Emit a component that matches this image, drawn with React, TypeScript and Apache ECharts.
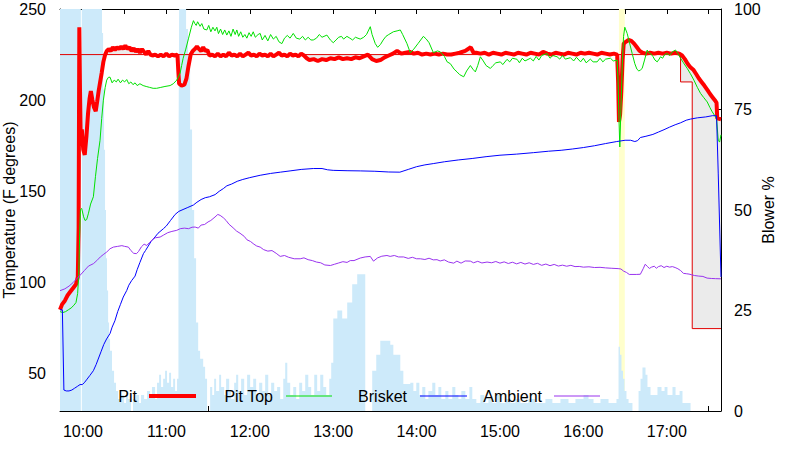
import React, { useEffect, useRef } from "react";
import * as echarts from "echarts";

// Time is minutes since midnight
const X_MIN = 583.5;
const X_MAX = 1059;
const X_TICKS = [600, 630, 660, 690, 720, 750, 780, 810, 840, 870, 900, 930, 960, 990, 1020, 1050];
const X_LABELS = [600, 660, 720, 780, 840, 900, 960, 1020];
const Y_TICKS = [50, 100, 150, 200, 250];
const Y2_TICKS = [0, 25, 50, 75, 100];

const LEGEND_NAMES = ["Pit", "Pit Top", "Brisket", "Ambient"];

const LID_OPEN: [number, number] = [985.6, 989.8];

const SETPOINT: [number, number][] = [
  [583.5, 225], [1029.9, 210], [1038.3, 74.7], [1059, 74.7],
];

const PIT: [number, number][] = [
  [583.5, 85], [585, 88], [587, 90], [589, 93], [591, 95], [593, 97], [595, 99], [596.3, 103], [596.9, 130],
  [597.4, 240], [597.9, 205], [598.4, 178], [599.2, 184], [600.2, 173], [601.3, 170], [602.5, 180], [603.7, 193],
  [604.8, 201], [605.7, 205], [606.8, 200], [608, 196], [609.2, 194], [610.2, 199], [611.3, 205], [612.4, 210],
  [613.5, 215], [614.7, 221], [616, 225], [617.2, 227], [618.5, 228], [620, 227], [621.5, 229], [623, 227.5],
  [624.5, 229], [626, 228], [627.5, 229.5], [629, 228], [630.5, 230], [632, 228], [633.5, 229], [635, 227],
  [636.5, 228.5], [638, 226.5], [639.5, 228], [641, 226], [642.5, 228], [644, 226.5], [645.5, 225], [647, 227],
  [648.5, 225], [650, 224.5], [652, 225], [654, 224], [656, 225], [658, 224], [660, 225.5], [662, 224], [664, 225],
  [666, 224.5], [668, 225], [668.6, 216], [669.2, 209], [671, 208], [673, 208.5], [674.5, 212], [676, 219],
  [677.5, 225], [679, 227], [680.5, 228], [682, 229.5], [683.5, 228], [685, 227], [686.5, 229], [688, 227],
  [689.5, 227.5], [691, 224.5], [693, 225], [695, 224], [697, 225.5], [699, 224], [701, 225], [703, 224], [705, 226],
  [707, 224.5], [709, 225], [711, 224], [713, 225.5], [715, 224], [717, 225], [719, 226], [721, 224.5], [723, 225],
  [725, 224], [727, 225.5], [729, 224.5], [731, 225], [733, 224], [735, 225.5], [737, 224], [739, 225], [741, 226],
  [743, 224.5], [745, 225], [747, 224], [749, 225.5], [751, 224.5], [753, 225], [755, 224], [757, 225.5],
  [759, 224.5], [761, 223], [763, 222], [766, 222.5], [769, 221.5], [772, 222.5], [775, 222], [778, 223],
  [781, 222.5], [784, 223.5], [787, 222.5], [790, 223], [793, 222.5], [796, 223.5], [799, 223], [802, 224],
  [805, 225], [808, 222.5], [811, 221.5], [814, 222], [817, 223.5], [820, 224.5], [823, 225.5], [826, 227],
  [829, 225.5], [832, 226], [835, 226.5], [838, 225.5], [841, 226], [844, 225], [847, 225.5], [850, 225],
  [853, 225.5], [856, 225], [859, 225.5], [862, 225], [865, 225], [868, 225.5], [871, 226], [875, 227],
  [879, 229], [881, 226], [883, 226], [886, 225.5], [889, 226], [892, 225], [895, 226], [898, 225.5], [901, 225],
  [904, 226], [907, 225.5], [910, 225], [913, 226], [916, 225.5], [919, 225], [922, 226], [925, 225.5], [928, 225],
  [931, 226.5], [934, 225.5], [937, 225], [940, 226], [943, 225.5], [946, 225], [949, 226], [952, 225.5],
  [955, 225], [958, 226], [961, 225.5], [964, 226], [967, 225.5], [970, 225], [973, 226], [976, 225.5], [979, 225],
  [982, 225.5], [984.3, 225], [985, 210], [985.6, 188], [986.4, 192], [987.3, 205], [988.2, 222], [989, 231],
  [990.5, 232], [992.5, 233], [994.5, 232.5], [996.5, 231], [998.5, 229], [1000.5, 227], [1002.5, 226],
  [1005, 225.5], [1008, 226], [1011, 225.5], [1014, 226], [1017, 225.5], [1020, 226], [1023, 225.5], [1026, 226],
  [1029, 225.5], [1031, 224.5], [1033, 222.5], [1035, 220], [1037, 218], [1039.3, 216.5], [1041, 214.5],
  [1043, 212], [1045, 210], [1047, 208], [1049.3, 205.5], [1051, 203.5], [1053, 201.5], [1055, 199.5],
  [1055.8, 198.5], [1056.3, 190], [1059, 189.5],
];

const PIT_TOP: [number, number][] = [
  [583.5, 84], [585.5, 83.5], [587.5, 84], [589.5, 85], [591.5, 86], [593.5, 87.5], [595, 89], [596.2, 94],
  [597, 105], [597.6, 125], [598.2, 140], [599.1, 140.6], [600.5, 136], [601.5, 134], [602.7, 134.5], [604, 138],
  [605.5, 143], [607.5, 147], [609, 158], [610.5, 168], [612.3, 178], [613.5, 190], [614.7, 200], [616, 207],
  [617.1, 211], [618.3, 212.5], [619.5, 212.6], [621, 209.5], [622.5, 211], [624, 210], [625.3, 211.5],
  [627, 209.5], [628.5, 211], [630, 210], [631.5, 211.3], [633, 209], [634.5, 210], [636, 208.5], [637.5, 209.5],
  [639, 208], [641, 209], [643.3, 208], [645.5, 207.5], [648, 207], [650.5, 206.5], [653, 206.5], [656, 207],
  [659, 207.5], [662.7, 208], [665, 209], [667.5, 211], [669.9, 214.8], [671, 219], [672.1, 223], [674, 228],
  [676, 234], [678, 240], [679.5, 243.6], [680.5, 242], [681.5, 241], [682.5, 243], [684.3, 240.5], [685.5, 242],
  [687, 239], [689.1, 238.5], [690.5, 241], [692, 237.5], [693.5, 240], [695, 238], [696.3, 240], [697.5, 236.5],
  [699, 239], [700.5, 236], [702, 238.5], [703.5, 235.7], [705, 238], [706.5, 235], [708, 239], [709.5, 236],
  [710.7, 238.5], [712, 235], [713.5, 237.5], [715, 234.5], [716.5, 236], [717.9, 234], [719.5, 237], [721, 235],
  [722.5, 237.5], [724, 234.5], [726, 236], [727.5, 236.6], [729, 233], [731, 235.5], [733, 232.5], [735, 236],
  [737, 233.5], [739, 235], [741, 232], [743.1, 231], [745, 234], [747, 235.5], [749, 234], [751.3, 236.6],
  [753.5, 234], [756, 233.5], [758, 235], [760, 233], [762, 234.5], [764, 233], [765.7, 233], [768, 234],
  [770, 236], [772, 234.5], [775.5, 235.7], [778, 233], [780.1, 231.5], [782, 233], [784, 234.5], [786, 235],
  [787.5, 233.5], [789.9, 235], [792, 234], [794, 233], [796, 234.5], [799.5, 233.5], [802, 234.5], [804, 236],
  [806.7, 240.3], [808, 236], [810.3, 231], [812, 229], [814, 230.5], [816, 233], [818, 235], [820, 236],
  [823.3, 237.5], [826, 238], [828.3, 238.5], [830, 236], [833.1, 231], [835.5, 226], [838, 228], [841, 231],
  [844.9, 235], [847, 233.5], [849, 231.5], [852.1, 226], [855, 227], [857.1, 226.5], [860, 224], [862, 221],
  [864.3, 220], [867, 217], [869.1, 215.5], [871, 214], [873.9, 212.8], [876, 216], [878.7, 219], [880.5, 217],
  [882.3, 215.5], [884, 219], [885.9, 223.8], [888, 221.5], [890, 219], [893.1, 217.4], [895, 219], [897, 220.5],
  [900.3, 221], [902, 219.5], [905.1, 222.4], [907, 221], [909, 223], [912.3, 222.4], [914, 220.5], [916, 223],
  [918, 221.5], [921.9, 223], [924, 221.5], [926, 224], [928, 222], [930, 224.5], [933.9, 225.6], [936, 223],
  [938, 224.5], [941.1, 223.8], [943, 222.5], [945, 224.5], [947, 222.5], [950.7, 223.3], [953, 221.5],
  [955, 223.5], [958, 221], [960, 223], [962, 220.5], [965, 222.5], [967, 221], [969.9, 221], [972, 223], [974, 221],
  [976, 222.5], [979.5, 223], [981.5, 221.5], [984.3, 222], [985, 210], [985.6, 190], [986.2, 174.3], [987, 195],
  [988, 220], [988.9, 235], [989.8, 240], [991.5, 236.6], [993, 232], [995.1, 225.6], [997, 220], [998.5, 217],
  [999.9, 216], [1001, 216.5], [1002.3, 217.4], [1004, 222], [1005.9, 227.5], [1007, 226], [1008.3, 225.6],
  [1010, 224], [1011.5, 222], [1013.1, 221], [1014.5, 222.5], [1015.5, 223.8], [1017, 223], [1018.5, 225],
  [1020.3, 225.6], [1022, 224.5], [1024, 226.5], [1026.3, 227.5], [1028, 225.5], [1029.9, 223], [1032, 220.5],
  [1034.7, 217.4], [1037, 214.5], [1039.5, 211], [1042, 207], [1044.3, 203.7], [1046.5, 201.5], [1049.1, 199],
  [1051, 196], [1052.7, 193.6], [1054.5, 191.5], [1055.8, 190], [1057, 178], [1058, 177], [1059, 181],
];

const BRISKET: [number, number][] = [
  [583.5, 85], [585.2, 85], [586.3, 41], [588, 40.5], [590, 40.5], [592, 41], [594, 42], [596, 43], [597.9, 44],
  [599.5, 44], [601, 45], [603, 47], [605, 49], [607.5, 51.6], [609.5, 55], [611, 58], [613, 62], [615, 66],
  [617, 69], [619.5, 72], [621, 75.5], [623, 79], [625, 84], [627, 88], [629, 92], [631.5, 95.6], [633, 98.5],
  [635, 101], [637.5, 103.5], [639, 107], [641, 111], [643.5, 115.8], [645, 117.5], [647, 120], [649, 122.5],
  [651.9, 125], [654, 127], [657.9, 129.5], [660, 131], [663, 134], [666.3, 137.3], [669, 139], [672, 140],
  [675, 141], [679.5, 142.5], [682, 144], [685, 145.5], [688, 146.5], [691, 147], [695.1, 148.2], [698, 150],
  [701, 151.5], [703.5, 153], [707, 154], [711, 155.5], [715, 156.5], [720, 157.5], [727.5, 158.8], [735, 159.8],
  [742, 160.5], [749, 161.2], [757, 162], [765.7, 162.5], [772, 162.5], [776, 161.8], [780, 161.5], [790, 161.3],
  [799.5, 161.2], [810, 161], [820, 160.6], [828, 160.5], [834, 162], [840, 163.5], [846, 164.5], [852, 165.2],
  [860, 166.2], [870, 167.2], [880, 168], [890, 169], [900, 169.8], [912, 170.4], [924, 171.2], [935, 172],
  [944, 172.5], [952, 173.2], [960, 174], [968, 175], [976, 176.2], [984, 177.3], [990, 178], [994, 178],
  [997, 177.3], [999, 177.8], [1001, 179.5], [1005, 180.2], [1010, 181.2], [1014, 182.5], [1018, 183.8],
  [1022, 185.2], [1026, 186.5], [1030, 187.6], [1034, 189], [1037, 189.6], [1042, 190.3], [1048, 190.8],
  [1053, 191.5], [1055.8, 191.4], [1057, 160], [1059, 103],
];

const AMBIENT: [number, number][] = [
  [583.5, 95.5], [587, 96.5], [590, 98], [593, 100], [595.5, 102], [598, 104], [601, 106.5], [604, 109],
  [607.5, 110.3], [610, 112], [612.5, 114], [615, 115.5], [617.1, 116.7], [619.5, 118.5], [621.9, 119.4],
  [625, 119.8], [628, 120.2], [630, 119.8], [632.7, 119.4], [634.5, 117.5], [636.5, 116], [638.5, 115.8],
  [640, 117], [642, 119.5], [644, 121], [645.9, 120.3], [648, 122], [650, 123.5], [652, 124.5], [655.5, 124.9],
  [658, 126], [661, 127.3], [664, 128], [667.5, 128.6], [670, 129.5], [673, 129.8], [676, 129.5], [678.5, 130.3],
  [680.7, 130.4], [683, 129.8], [685, 131.5], [687.5, 131.8], [690, 133.2], [692, 134], [695, 135.9],
  [697, 137.3], [698.7, 136.8], [701, 135.5], [703, 134], [705, 132], [708, 130], [710.5, 128.2], [713, 127],
  [716, 125.3], [718, 123.4], [720.5, 122.5], [723, 121], [725, 120], [727.5, 119.4], [730, 118], [733, 117.2],
  [736, 117.5], [739, 116], [741.9, 114.3], [745, 114.8], [748, 113.8], [752, 113], [756.3, 113], [759, 113.5],
  [762, 112.5], [765, 112], [768, 111.2], [771, 110.8], [774, 109.6], [778, 109.3], [781, 110], [784, 110.7],
  [787, 111.4], [790, 111], [792.3, 112], [795, 112], [799.5, 113.4], [803, 114], [806.7, 114.3], [809, 111.7],
  [812, 113.5], [815, 114.4], [818.7, 114.8], [821, 114.3], [824, 114.8], [827, 114], [830.7, 114], [834, 113.2],
  [837, 113.8], [840, 113], [842.7, 113], [846, 112.6], [849, 113.3], [852, 112.4], [854.7, 112.5], [857, 111.8],
  [860, 112.4], [863, 111.2], [866.7, 110.6], [869, 111.7], [872, 110.6], [875, 111.8], [878.7, 111.7],
  [881, 110.8], [884, 111.6], [887, 110.7], [890.7, 111.2], [894, 110.8], [897, 111.5], [900, 110.6],
  [903, 111.3], [906, 110.4], [909, 111.1], [912, 110.2], [915, 111], [918, 110.1], [921, 110.8], [924, 109.9],
  [927, 110.5], [930, 109.4], [933, 110.1], [936, 109.2], [939, 109.9], [942, 109], [945, 109.5], [948, 108.9],
  [951, 109.4], [954, 108.7], [957, 108.8], [960, 108.4], [964, 108.6], [968, 108.2], [972, 108.3], [976, 108],
  [980, 107.8], [985, 107.6], [987, 107.4], [989, 106.2], [991, 105.5], [993, 104.4], [998, 104.4], [1001, 104.5],
  [1003, 107.5], [1004.5, 110], [1006, 108.8], [1007.5, 107.7], [1009, 108.4], [1011, 108.9], [1012.5, 107.8],
  [1014, 108.7], [1016, 109.2], [1018, 108.2], [1020, 108.9], [1022, 108.4], [1024, 108.7], [1026, 108.2],
  [1028, 107.5], [1030, 106.5], [1032, 105], [1034, 104.8], [1036, 104.6], [1038, 104.2], [1040, 103.8],
  [1043, 103.5], [1046, 103.3], [1049, 102.4], [1052, 102.2], [1055, 102.1], [1059, 102],
];

const BLOWER: [number, number][] = [
  [583.5, 100], [598.5, 0], [599.2, 100], [613.7, 94], [614.5, 80], [615.2, 65], [615.9, 50], [616.6, 38],
  [617.3, 30], [618.1, 22], [618.8, 18], [619.5, 15], [620.9, 10], [622.4, 7], [623.8, 5], [625.3, 3], [627.4, 4],
  [629.6, 2], [631, 5], [632.5, 3], [634.6, 0], [636, 3], [638.2, 4], [640.4, 2], [641.8, 4], [644, 3], [646.1, 5],
  [648.3, 4], [649.7, 6], [651.9, 3], [653.3, 7], [654.8, 9], [656.2, 6], [657.7, 8], [659.1, 10], [660.5, 7],
  [662, 9.5], [663.4, 6], [664.9, 8], [666.3, 5], [667.7, 8], [668.7, 60], [669.2, 100], [674.2, 95],
  [675.6, 85], [677.1, 70], [678.5, 50], [680, 38], [681.4, 22], [682.9, 15], [684.3, 13], [686.5, 11],
  [687.9, 8], [689.3, 0], [691.5, 6], [693, 4], [694.4, 8], [695.8, 5], [698, 9], [699.4, 6], [701.6, 4], [703, 8],
  [705.2, 5], [706.6, 3], [708.8, 7], [710.2, 9], [711.7, 5], [713.8, 8], [716, 4], [718.1, 9], [720.3, 6],
  [722.5, 8], [724.6, 4], [726.8, 7], [729, 5], [731.1, 9], [733.3, 4], [735.4, 7], [737.6, 5], [739.7, 6],
  [741.9, 3], [744.1, 8], [745.5, 12], [747, 7], [749.1, 4], [751.3, 6], [753.4, 3], [755.6, 7], [757.7, 5],
  [759.9, 9], [762.1, 6], [764.2, 4], [766.4, 9], [768.5, 5], [770.7, 9], [772.9, 6], [775, 4], [777.2, 8],
  [778.6, 12], [780.1, 23], [783, 25], [786.5, 23], [790.1, 27], [793.7, 31.5], [797.3, 34], [803.1, 0],
  [808.1, 10], [811, 14], [813.9, 17.5], [821.1, 16.5], [823.3, 14], [828.3, 10], [830.5, 6.7], [835.5, 7],
  [837.7, 5], [839.8, 7], [842, 4], [844.1, 6], [846.3, 3], [848.5, 5], [851.3, 7], [853.5, 4], [855.7, 6],
  [857.8, 3], [860.7, 5], [862.9, 3], [865.7, 6], [867.9, 4], [870.1, 3], [872.2, 5], [875.1, 3], [878, 6],
  [880.1, 3], [883, 2], [885.9, 4], [888.8, 2], [891.7, 3], [894.5, 2], [897.4, 4], [900.3, 2], [903.9, 3],
  [907.5, 2], [911.1, 3], [914.7, 2], [920.5, 3], [925.5, 2], [932.7, 3], [937.7, 2], [943.5, 3], [949.3, 2],
  [954.3, 3], [960.1, 4], [963.7, 3], [967.3, 2], [972.3, 3], [978.1, 2], [983.8, 3], [985.3, 16], [986.3, 14],
  [987.4, 10], [988.5, 8], [989.6, 5], [991, 3], [992.5, 2], [995.3, 0], [999.7, 5], [1001.1, 8], [1002.5, 10.8],
  [1004.7, 9], [1006.1, 6], [1008.3, 4], [1013.3, 6], [1016.2, 5], [1018.4, 6], [1020.5, 4], [1024.1, 6],
  [1026.3, 4], [1029.2, 5], [1031.3, 2], [1037.1, 0], [1059, 0],
];

const FONT = '"Liberation Sans", Arial, Helvetica, sans-serif';
const C_PIT = "#ff0000";
const C_TOP = "#00e000";
const C_BRISKET = "#0000ff";
const C_AMB = "#9933ee";

function fmtTime(v: number) {
  const h = Math.floor(v / 60);
  const m = Math.round(v - h * 60);
  return `${h}:${m < 10 ? "0" : ""}${m}`;
}

function interp(arr: [number, number][], t: number) {
  if (t <= arr[0][0]) return arr[0][1];
  for (let i = 1; i < arr.length; i++) {
    if (t <= arr[i][0]) {
      const [t0, v0] = arr[i - 1];
      const [t1, v1] = arr[i];
      return v0 + ((v1 - v0) * (t - t0)) / (t1 - t0);
    }
  }
  return arr[arr.length - 1][1];
}

function stepAt(arr: [number, number][], t: number) {
  let v = arr[0][1];
  for (const [tt, vv] of arr) if (tt <= t) v = vv;
  return v;
}

function buildOption() {
  const times = new Set<number>(PIT.map((p) => p[0]));
  SETPOINT.slice(1, -1).forEach(([t]) => {
    times.add(t);
    times.add(+(t - 0.01).toFixed(3));
  });
  const grid = Array.from(times).sort((a, b) => a - b);
  const fillData = grid.map((t) => [t, interp(PIT, t), stepAt(SETPOINT, t)]);

  const legendX = [
    { right: 137, x1: 149, x2: 196, color: C_PIT, w: 4 },
    { right: 273, x1: 286, x2: 332, color: C_TOP, w: 1 },
    { right: 407, x1: 420, x2: 467, color: C_BRISKET, w: 1 },
    { right: 542, x1: 554, x2: 600, color: C_AMB, w: 1 },
  ];
  const legendY = 396;
  const graphic: any[] = [];
  LEGEND_NAMES.forEach((name, i) => {
    const L = legendX[i];
    graphic.push({
      type: "text",
      x: L.right,
      y: legendY,
      z: 100,
      style: { text: name, align: "right", verticalAlign: "middle", fill: "#000", fontSize: 16, fontFamily: FONT },
    });
    graphic.push({
      type: "line",
      z: 100,
      shape: { x1: L.x1, y1: legendY, x2: L.x2, y2: legendY },
      style: { stroke: L.color, lineWidth: L.w },
    });
  });

  const axisText = { color: "#000", fontSize: 16, fontFamily: FONT };
  const line = (name: string, data: any, color: string, width: number, z: number) => ({
    name,
    type: "line",
    data,
    symbol: "none",
    showSymbol: false,
    lineStyle: { color, width },
    itemStyle: { color },
    z,
  });

  return {
    animation: false,
    backgroundColor: "#ffffff",
    grid: { left: 60, right: 79, top: 9, bottom: 39, containLabel: false, outerBoundsMode: "none" },
    textStyle: { fontFamily: FONT },
    xAxis: [
      {
        type: "value",
        min: X_MIN,
        max: X_MAX,
        position: "bottom",
        axisLine: { show: true, onZero: false, lineStyle: { color: "#000", width: 1 } },
        axisTick: { show: true, inside: true, length: 5, customValues: X_TICKS, lineStyle: { color: "#000" } },
        axisLabel: { customValues: X_LABELS, formatter: fmtTime, margin: 12, ...axisText },
        splitLine: { show: false },
      },
      {
        type: "value",
        min: X_MIN,
        max: X_MAX,
        position: "top",
        axisLine: { show: true, onZero: false, lineStyle: { color: "#000", width: 1 } },
        axisTick: { show: true, inside: true, length: 5, customValues: X_TICKS, lineStyle: { color: "#000" } },
        axisLabel: { show: false },
        splitLine: { show: false },
      },
    ],
    yAxis: [
      {
        type: "value",
        min: 29.5,
        max: 250,
        position: "left",
        name: "Temperature (F degrees)",
        nameLocation: "middle",
        nameRotate: 90,
        nameGap: 43,
        nameMoveOverlap: false,
        nameTextStyle: axisText,
        axisLine: { show: true, onZero: false, lineStyle: { color: "#000", width: 1 } },
        axisTick: { show: true, inside: true, length: 5, customValues: Y_TICKS, lineStyle: { color: "#000" } },
        axisLabel: { customValues: Y_TICKS, margin: 14, ...axisText },
        splitLine: { show: false },
      },
      {
        type: "value",
        min: 0,
        max: 100,
        position: "right",
        name: "Blower %",
        nameLocation: "middle",
        nameRotate: 90,
        nameGap: 39,
        nameMoveOverlap: false,
        nameTextStyle: axisText,
        axisLine: { show: true, onZero: false, lineStyle: { color: "#000", width: 1 } },
        axisTick: { show: true, inside: true, length: 5, customValues: Y2_TICKS, lineStyle: { color: "#000" } },
        axisLabel: { customValues: Y2_TICKS, margin: 13, ...axisText },
        splitLine: { show: false },
      },
    ],
    graphic,
    series: [
      {
        name: "Lid open",
        type: "line",
        data: [],
        z: 1,
        markArea: {
          silent: true,
          itemStyle: { color: "#ffffcc", opacity: 1 },
          data: [[{ xAxis: LID_OPEN[0] }, { xAxis: LID_OPEN[1] }]],
        },
      },
      {
        name: "Setpoint gap",
        type: "custom",
        data: fillData,
        encode: { x: 0, y: [1, 2] },
        clip: true,
        silent: true,
        z: 2,
        renderItem: (params: any, api: any) => {
          if (params.dataIndex !== 0) return null;
          const top = fillData.map((d) => api.coord([d[0], d[1]]));
          const bottom = fillData.map((d) => api.coord([d[0], d[2]])).reverse();
          return {
            type: "polygon",
            shape: { points: top.concat(bottom) },
            style: { fill: "#ebebeb", stroke: "none" },
          };
        },
      },
      {
        name: "Blower",
        type: "line",
        yAxisIndex: 1,
        step: "end",
        data: BLOWER,
        symbol: "none",
        lineStyle: { width: 0, opacity: 0 },
        areaStyle: { color: "#cdeafa", opacity: 1 },
        z: 3,
      },
      { ...line("Setpoint", SETPOINT, "#e00000", 1, 4), step: "end" },
      line("Pit", PIT, C_PIT, 4, 5),
      line("Pit Top", PIT_TOP, C_TOP, 1, 6),
      line("Brisket", BRISKET, C_BRISKET, 1, 7),
      line("Ambient", AMBIENT, C_AMB, 1, 8),
    ],
  };
}

export default function App() {
  const ref = useRef<HTMLDivElement>(null);
  useEffect(() => {
    if (!ref.current) return;
    const chart = echarts.init(ref.current, undefined, { renderer: "svg" });
    chart.setOption(buildOption() as any);
    return () => chart.dispose();
  }, []);
  return (
    <div
      ref={ref}
      style={{ position: "absolute", left: 0, top: 0, width: 800, height: 450, background: "#fff" }}
    />
  );
}
